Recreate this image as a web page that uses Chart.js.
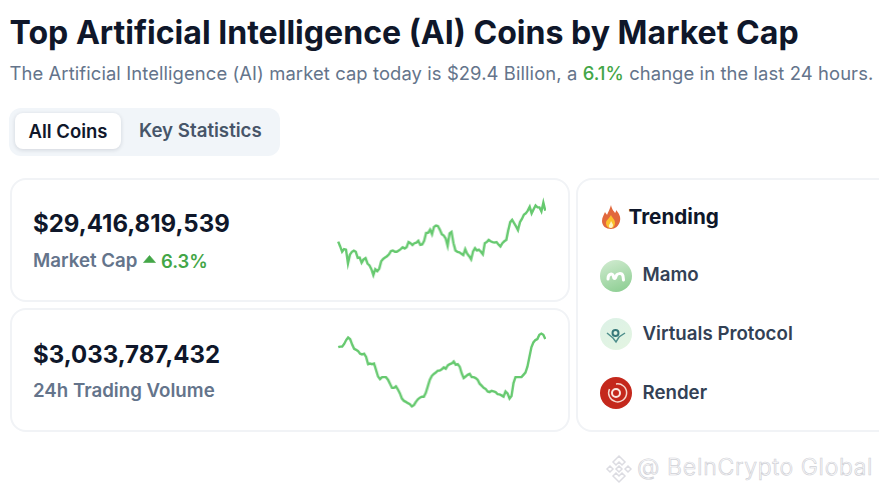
<!DOCTYPE html>
<html><head><meta charset="utf-8">
<script src="https://cdn.jsdelivr.net/npm/chart.js@4"></script>
<style>
html,body{margin:0;padding:0;background:#fff;width:879px;height:495px;overflow:hidden;font-family:Inter,"Noto Sans",sans-serif}
.a{position:absolute;white-space:nowrap}
.card{position:absolute;box-sizing:border-box;border:2px solid #f1f3f6;border-radius:16px;background:#fff}
.icon{position:absolute;width:32px;height:32px;border-radius:50%;left:600px;overflow:hidden}
.name{position:absolute;left:642.5px;font-size:18.7px;font-weight:600;color:#334155;line-height:22px}
canvas{display:block}
</style></head><body>
<div class="a" id="title" style="left:9.5px;top:14px;font-size:32.1px;font-weight:700;color:#0f172a;line-height:38px">Top Artificial Intelligence (AI) Coins by Market Cap</div>
<div class="a" id="sub" style="left:9.5px;top:61px;font-size:18.4px;color:#64748b;line-height:24px;letter-spacing:.1px">The Artificial Intelligence (AI) market cap today is $29.4 Billion, a <span style="color:#43a647;font-weight:500">6.1%</span> change in the last 24 hours.</div>
<div class="a" style="left:9px;top:108px;width:271px;height:48px;background:#f1f5f9;border-radius:12px"></div>
<div class="a" style="left:15px;top:113px;width:106px;height:36px;background:#fff;border-radius:8px;box-shadow:0 1px 4px rgba(15,23,42,.14);text-align:center;font-size:18.5px;font-weight:600;color:#0f172a;line-height:36px">All Coins</div>
<div class="a" style="left:139px;top:119px;font-size:18.7px;font-weight:600;color:#475569;line-height:24px">Key Statistics</div>
<div class="card" style="left:10px;top:178px;width:560px;height:124px"></div>
<div class="card" style="left:10px;top:308px;width:560px;height:124px"></div>
<div class="card" style="left:576px;top:178px;width:340px;height:254px"></div>
<div class="a" style="left:33px;top:209px;font-size:24px;font-weight:700;color:#0f172a;line-height:30px">$29,416,819,539</div>
<div class="a" style="left:33px;top:249px;font-size:18.7px;font-weight:600;color:#64748b;line-height:24px">Market Cap</div>
<svg class="a" style="left:143px;top:254px" width="13" height="10"><path d="M0.500 8.500 L6.500 1.500 L12.500 8.500 Z" fill="#43a647" stroke="#43a647" stroke-width=".6" stroke-linejoin="round"/></svg>
<div class="a" style="left:161px;top:249px;font-size:18.4px;font-weight:600;color:#43a647;line-height:24px">6.3%</div>
<div class="a" style="left:33px;top:340px;font-size:24px;font-weight:700;color:#0f172a;line-height:30px">$3,033,787,432</div>
<div class="a" style="left:33px;top:379px;font-size:18.7px;font-weight:600;color:#64748b;line-height:24px">24h Trading Volume</div>
<div class="a" style="left:337.3px;top:190px;width:208.5px;height:100px"><canvas id="cap"></canvas></div>
<div class="a" style="left:337.3px;top:320px;width:208.5px;height:100px"><canvas id="vol"></canvas></div>
<svg class="a" style="left:600px;top:204px" width="22" height="26" viewBox="0 0 22 26"><path d="M11 1 C12 6 14 7 15 9 C16 8 16 7 16 6 C19 9 21 13 20 17 C19 22 15 25 11 25 C6 25 2 22 2 17 C2 13 4 11 5 8 C6 10 7 10 7 11 C8 8 10 5 11 1Z" fill="#e2683c"/><path d="M11 11 C12 14 15 15 15 19 C15 22 13 24 11 24 C8 24 6 22 6 19 C6 16 9 15 11 11Z" fill="#fbc02d"/><path d="M11 17 C12 19 13 20 13 21 C13 23 12 24 11 24 C9 24 8.500 22.500 9 21 C9.500 20 10.500 19 11 17Z" fill="#fff3c4"/></svg>
<div class="a" style="left:628.5px;top:203px;font-size:20.7px;font-weight:700;color:#0f172a;line-height:28px">Trending</div>
<div class="icon" style="top:260px;background:linear-gradient(160deg,#d3ecd2,#88cc8e)"><svg width="32" height="32"><path d="M8 19 C8 13 13 13 13.500 16.500 C13.800 19 15.500 19 16 16.500 C16.500 13 22 12.500 23 16 L23.500 20" fill="none" stroke="#fff" stroke-width="3" stroke-linecap="round"/></svg></div>
<div class="name" style="top:264px">Mamo</div>
<div class="icon" style="top:318px;background:linear-gradient(150deg,#dcf1e6,#e4f5e2)"><svg width="32" height="32"><path d="M7 15 L13 20 L16 24 L19 19 L25 15" fill="none" stroke="#4f8f8c" stroke-width="1.500"/><circle cx="15.500" cy="15" r="3" fill="none" stroke="#37787a" stroke-width="2"/></svg></div>
<div class="name" style="top:323px">Virtuals Protocol</div>
<div class="icon" style="top:377px;background:#c4281c"><svg width="32" height="32"><path d="M9.500 12 A9 9 0 1 0 16 7" fill="none" stroke="#f6d8cf" stroke-width="1.500"/><circle cx="16" cy="16" r="4" fill="none" stroke="#fbe7e0" stroke-width="2"/></svg></div>
<div class="name" style="top:382px">Render</div>
<svg class="a" style="left:604px;top:454px" width="30" height="30" viewBox="0 0 30 30" fill="none" stroke="#dcdce2" stroke-width="1.500"><path d="M15 2 L21 8 L18 11 L15 8 L12 11 L9 8Z M15 28 L21 22 L18 19 L15 22 L12 19 L9 22Z M3 15 L6 12 L9 15 L6 18Z M27 15 L24 12 L21 15 L24 18Z M15 12 L18 15 L15 18 L12 15Z"/></svg>
<div class="a" style="left:637px;top:453px;font-size:23px;font-weight:300;color:#fff;-webkit-text-stroke:.7px #cfd0d6;line-height:28px;letter-spacing:.65px">@ BeInCrypto Global</div>
<script>
const capValues=[27.63,27.38,27.10,27.24,27.21,26.49,26.95,27.10,27.16,27.10,26.78,26.80,26.53,26.70,26.77,26.49,26.39,26.19,25.88,26.19,26.09,26.22,26.60,26.73,26.80,26.87,26.97,27.14,27.17,27.10,27.10,27.17,27.24,27.34,27.27,27.34,27.61,27.55,27.45,27.55,27.58,27.68,27.46,27.48,27.68,28.09,28.09,28.26,28.02,28.40,28.47,28.45,28.26,28.02,27.95,27.79,27.41,28.06,28.14,27.55,27.17,27.10,27.07,27.00,26.93,27.24,27.00,26.87,26.70,27.12,27.29,27.17,27.21,27.10,26.97,27.55,27.61,27.72,27.65,27.61,27.58,27.61,27.48,27.38,27.55,27.65,27.72,28.23,28.65,28.77,28.60,28.43,28.23,28.65,28.82,29.04,29.11,29.25,29.45,29.11,29.32,29.52,29.42,29.42,29.21,29.67,29.25];
const volValues=[2.854,2.866,2.866,2.914,2.986,3.034,3.004,2.902,2.824,2.806,2.782,2.734,2.722,2.734,2.674,2.542,2.554,2.542,2.554,2.434,2.314,2.266,2.302,2.302,2.302,2.254,2.182,2.104,2.104,2.134,2.074,2.002,1.906,1.864,1.846,1.822,1.804,1.762,1.786,1.846,1.894,1.924,1.942,1.942,2.014,2.134,2.254,2.326,2.362,2.386,2.422,2.422,2.446,2.482,2.458,2.518,2.542,2.554,2.590,2.530,2.542,2.494,2.374,2.284,2.314,2.344,2.362,2.302,2.302,2.284,2.254,2.182,2.146,2.104,2.086,2.038,2.026,2.050,2.038,2.026,1.990,1.984,1.966,1.942,2.038,2.002,1.906,1.954,2.194,2.302,2.302,2.302,2.302,2.344,2.386,2.494,2.674,2.854,2.944,2.986,3.004,3.082,3.106,3.082,3.004];
const capRange=[25.167,30.267];
const volRange=[1.534,3.334];
function spark(id,values,range){
  new Chart(document.getElementById(id),{type:'line',
    data:{labels:values.map((_,i)=>i),datasets:[{data:values,borderColor:'#66c96f',borderWidth:2.4,pointRadius:0,tension:0,fill:false}]},
    options:{responsive:true,maintainAspectRatio:false,animation:false,events:[],layout:{padding:0},
      plugins:{legend:{display:false},tooltip:{enabled:false}},
      scales:{x:{display:false,offset:false},y:{display:false,min:range[0],max:range[1]}}}});
}
spark('cap',capValues,capRange);
spark('vol',volValues,volRange);
</script>
</body></html>
